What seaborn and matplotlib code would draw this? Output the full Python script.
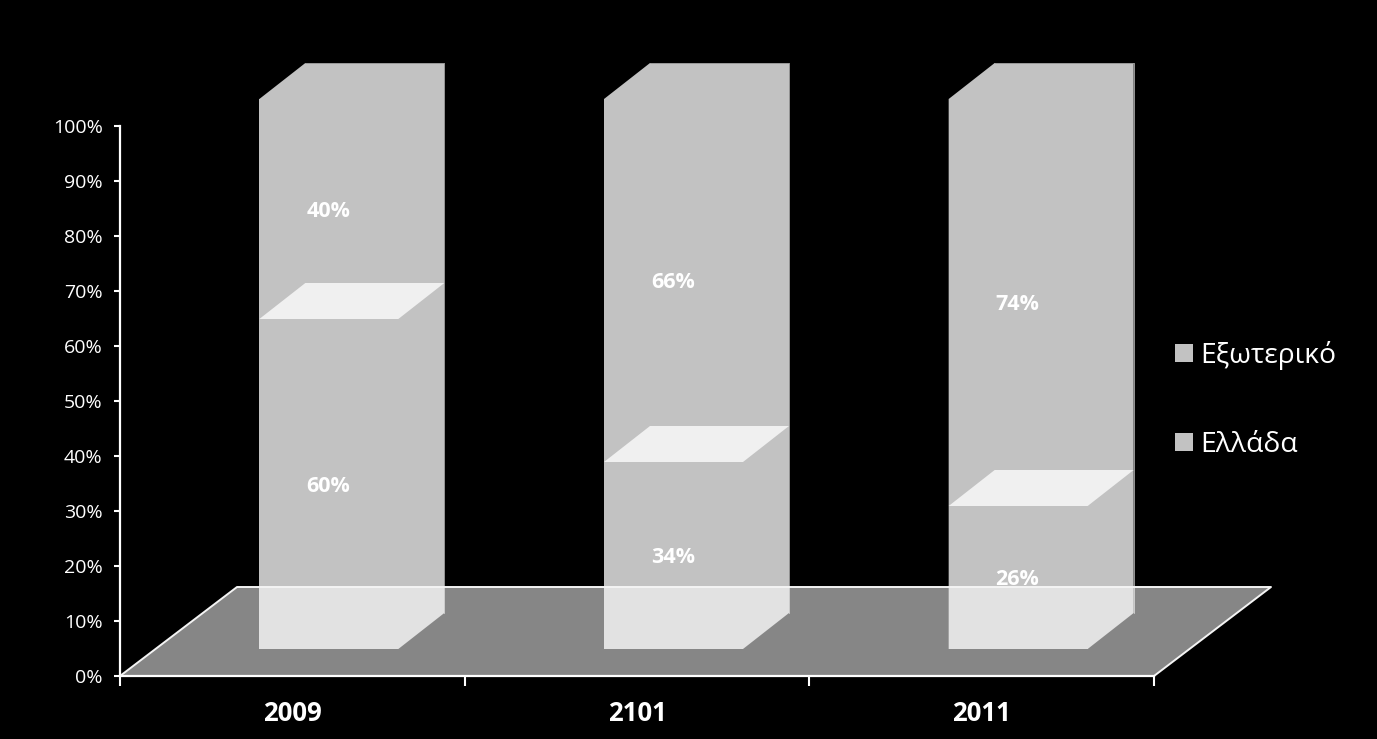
import matplotlib
matplotlib.use("Agg")
import matplotlib.pyplot as plt
from matplotlib.patches import Polygon, Patch
import numpy as np
import pandas as pd
import seaborn as sns

years = ["2009", "2101", "2011"]
greece = [60, 34, 26]
abroad = [40, 66, 74]
y_ticks = list(range(0, 101, 10))
legend_labels = ["Εξωτερικό", "Ελλάδα"]

BG = "#000000"; BAR = "#c2c2c2"; TOPFACE = "#f0f0f0"; FONT = "Open Sans"
W, H = 1377, 739
L, R, T, B = 120, 1154, 126, 676

sns.set_theme(style="white")
plt.rcParams["font.family"] = [FONT, "DejaVu Sans"]
fig = plt.figure(figsize=(W/100, H/100), dpi=100, facecolor=BG)
ax = fig.add_axes([L/W, 1-B/H, (R-L)/W, (B-T)/H], facecolor=BG)

# 3D projection constants (data units)
px_x = (R-L)/3; px_y = (B-T)/100
base = 27/px_y
shift = 36.5/px_x
width = 139/px_x
dx, dy = 46/px_x, 36/px_y
floor_dx, floor_dy = 117/px_x, 89/px_y

centers = np.arange(len(years)) + 0.5 + shift
df = pd.DataFrame({"pos": centers, "Ελλάδα": greece, "Εξωτερικό": abroad})

sns.barplot(data=df, x="pos", y="Ελλάδα", native_scale=True, width=width, color=BAR,
            saturation=1, linewidth=0, ax=ax, zorder=2)
n0 = len(ax.patches)
sns.barplot(data=df, x="pos", y="Εξωτερικό", native_scale=True, width=width, color=BAR,
            saturation=1, linewidth=0, ax=ax, zorder=2)
for p in ax.patches[:n0]:
    p.set_y(base)
for p, g in zip(ax.patches[n0:], greece):
    p.set_y(base + g)
for p in ax.patches:
    p.set_clip_on(False)

for c, g, a in zip(centers, greece, abroad):
    x0, x1 = c - width/2, c + width/2
    top = base + g + a
    mid = base + g
    # silhouette of front, side and roof, so no seams show between them
    ax.add_patch(Polygon([(x0, base), (x1, base), (x1+dx, base+dy), (x1+dx, top+dy),
                          (x0+dx, top+dy), (x0, top)],
                         fc=BAR, ec="none", zorder=2.05, clip_on=False))
    ax.plot([x0+dx, x1+dx, x1+dx], [top+dy, top+dy, base+dy], color="#969696", lw=0.7,
            zorder=2.1, clip_on=False)
    # face between the two series
    ax.add_patch(Polygon([(x0, mid), (x1, mid), (x1+dx, mid+dy), (x0+dx, mid+dy)],
                         fc=TOPFACE, ec="none", zorder=2.2, clip_on=False))
    ax.text(c - 0.002, base + g/2 - 0.4, f"{g}%", color="white", fontsize=15.5, fontweight="bold",
            ha="center", va="center", zorder=6)
    ax.text(c - 0.002, mid + a/2 - 0.4, f"{a}%", color="white", fontsize=15.5, fontweight="bold",
            ha="center", va="center", zorder=6)

# translucent floor over the bars
ax.add_patch(Polygon([(0, 0), (floor_dx, floor_dy), (3+floor_dx, floor_dy), (3, 0)],
                     fc=(1, 1, 1, 0.53), ec="none", zorder=3, clip_on=False))
ax.plot([0, floor_dx, 3+floor_dx, 3], [0, floor_dy, floor_dy, 0], color="#f4f4f4", lw=1.4,
        zorder=4, clip_on=False)

ax.set_xlim(0, 3); ax.set_ylim(0, 100)
ax.set_xlabel(""); ax.set_ylabel("")
ax.set_xticks([0, 1, 2, 3]); ax.set_xticklabels([])
ax.set_xticks([0.5, 1.5, 2.5], labels=years, minor=True)
ax.set_yticks(y_ticks, labels=[f"{v}%" for v in y_ticks])
ax.tick_params(axis="x", which="major", color="white", length=7, width=1.5, direction="out", bottom=True)
ax.tick_params(axis="x", which="minor", length=0, pad=17.5, labelcolor="white", labelsize=18.5, bottom=True)
ax.tick_params(axis="y", color="white", length=4.5, width=1.5, direction="out", left=True,
               labelcolor="white", labelsize=14, pad=8)
for lab in ax.get_xticklabels(minor=True):
    lab.set_fontweight("bold")
for s in ("top", "right"):
    ax.spines[s].set_visible(False)
for s in ("left", "bottom"):
    ax.spines[s].set_color("white"); ax.spines[s].set_linewidth(1.6); ax.spines[s].set_zorder(5)

handles = [Patch(fc=BAR, ec="none") for _ in legend_labels]
leg = fig.legend(handles, legend_labels, loc="center left",
                 bbox_to_anchor=(1175/W, 1-400/H), frameon=False, fontsize=20.3, labelcolor="white",
                 handlelength=0.64, handleheight=0.64, handletextpad=0.25, labelspacing=2.17,
                 borderpad=0, borderaxespad=0)
fig.savefig("out.png", dpi=100, facecolor=BG)
